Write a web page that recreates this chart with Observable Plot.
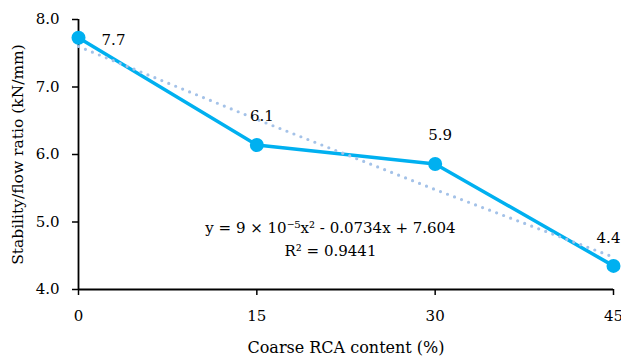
<!DOCTYPE html>
<html>
<head>
<meta charset="utf-8">
<script src="https://cdn.jsdelivr.net/npm/d3@7"></script>
<script src="https://cdn.jsdelivr.net/npm/@observablehq/plot@0.6"></script>
<style>
  html, body { margin: 0; padding: 0; background: #fff; }
  svg { overflow: hidden; }
</style>
</head>
<body>
<div id="chart"></div>
<script>
// Data
const content = [0, 15, 30, 45];
const ratio = [7.73, 6.14, 5.86, 4.35];
const labels = ["7.7", "6.1", "5.9", "4.4"];
// trendline points
const trendX = [0, 15, 30, 45];
const trendY = [7.60, 6.52, 5.48, 4.48];
const yTicks = [4, 5, 6, 7, 8];
const xTicks = [0, 15, 30, 45];
const equation = "y = 9 \u00d7 10\u207b\u2075x\u00b2 - 0.0734x + 7.604";
const rsq = "R\u00b2 = 0.9441";

const pts = content.map((x, i) => ({x, y: ratio[i], label: labels[i]}));
const trend = trendX.map((x, i) => ({x, y: trendY[i]}));

const font = "'DejaVu Serif', serif";
const blue = "#00B0F0";
const fs = 15;

const chart = Plot.plot({
  width: 621,
  height: 363,
  marginLeft: 78,
  marginRight: 8,
  marginTop: 19,
  marginBottom: 74,
  style: {fontFamily: font, fontSize: fs + "px", color: "#000", background: "#fff"},
  x: {domain: [0, 45]},
  y: {domain: [4, 8]},
  marks: [
    Plot.axisY(yTicks, {tickFormat: d => d.toFixed(1), tickSize: 6, tickPadding: 13, stroke: "#000", strokeWidth: 1.5, fontSize: fs, label: null}),
    Plot.axisX(xTicks, {tickSize: 6, tickPadding: 15, stroke: "#000", strokeWidth: 1.5, fontSize: fs, label: null}),
    Plot.ruleX([0], {stroke: "#000", strokeWidth: 1.8}),
    Plot.ruleY([4], {stroke: "#000", strokeWidth: 1.8}),
    Plot.line(pts, {x: "x", y: "y", stroke: blue, strokeWidth: 3.5}),
    Plot.line(trend, {x: "x", y: "y", stroke: "#A4C2E8", strokeWidth: 3.2, strokeDasharray: "0 7.5", strokeLinecap: "round"}),
    Plot.dot(pts, {x: "x", y: "y", r: 7, fill: blue, stroke: null}),
    Plot.text(pts.slice(0, 1), {x: "x", y: "y", text: "label", dx: 35, dy: 2, fontSize: fs, fill: "#000"}),
    Plot.text(pts.slice(1, 3), {x: "x", y: "y", text: "label", dx: 5, dy: -29, fontSize: fs, fill: "#000"}),
    Plot.text(pts.slice(3), {x: "x", y: "y", text: "label", dx: -5, dy: -28, fontSize: fs, fill: "#000"}),
    Plot.text([equation], {frameAnchor: "top-left", textAnchor: "middle", dx: 252, dy: 203, fontSize: fs, fill: "#000"}),
    Plot.text([rsq], {frameAnchor: "top-left", textAnchor: "middle", dx: 252, dy: 226, fontSize: fs, fill: "#000"}),
    Plot.text(["Stability/flow ratio (kN/mm)"], {frameAnchor: "left", textAnchor: "middle", dx: -60, rotate: -90, fontSize: 15.5, fill: "#000"}),
    Plot.text(["Coarse RCA content (%)"], {frameAnchor: "bottom", textAnchor: "middle", dy: 63, fontSize: 16, fill: "#000"})
  ]
});
document.getElementById("chart").appendChild(chart);
</script>
</body>
</html>
